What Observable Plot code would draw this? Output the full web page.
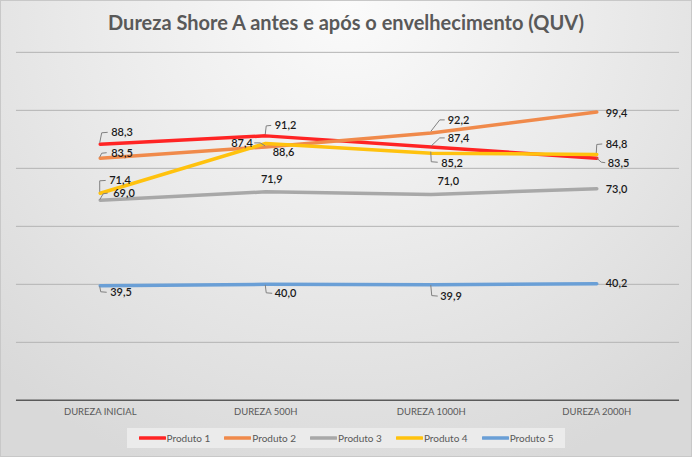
<!DOCTYPE html>
<html>
<head>
<meta charset="utf-8">
<script src="https://cdn.jsdelivr.net/npm/d3@7"></script>
<script src="https://cdn.jsdelivr.net/npm/@observablehq/plot@0.6"></script>
<style>
  html, body { margin: 0; padding: 0; }
  #chart {
    position: relative; width: 690px; height: 455px; overflow: hidden;
    border: 1px solid #c8c8c8;
    background: radial-gradient(ellipse 75% 110% at 50% 0%, #fbfbfb 0%, #ececec 45%, #d9d9d9 100%);
    font-family: Lato, "Open Sans", sans-serif;
  }
  #title {
    position: absolute; top: 9px; left: 0; width: 690px; text-align: center;
    font-size: 20px; font-weight: 700; color: #595959; letter-spacing: 0px;
  }
  #plot { position: absolute; top: 0; left: 0; }
  #legend {
    position: absolute; left: 126px; top: 427px; width: 438px; height: 20px;
    background: rgba(236,236,236,0.9);
    display: flex; align-items: center; justify-content: center; gap: 14px;
    font-size: 10px; color: #595959;
  }
  .item { display: flex; align-items: center; }
  .item svg { margin-right: 1px; }
</style>
</head>
<body>
<div id="chart">
  <div id="plot"></div>
  <div id="title">Dureza Shore A antes e após o envelhecimento (QUV)</div>
  <div id="legend"></div>
</div>
<script>
// ---- data ----
const categories = ["DUREZA INICIAL", "DUREZA 500H", "DUREZA 1000H", "DUREZA 2000H"];
const seriesNames = ["Produto 1", "Produto 2", "Produto 3", "Produto 4", "Produto 5"];
const produto1 = [88.3, 91.2, 87.4, 83.5];
const produto2 = [83.5, 87.4, 92.2, 99.4];
const produto3 = [69.0, 71.9, 71.0, 73.0];
const produto4 = [71.4, 88.6, 85.2, 84.8];
const produto5 = [39.5, 40.0, 39.9, 40.2];
const gridValues = [20, 40, 60, 80, 100, 120];
const colors = ["#ff2424", "#f08a4b", "#a8a8a8", "#ffc20e", "#6a9fd6"];

const seriesValues = [produto1, produto2, produto3, produto4, produto5];

// ---- label layout (pixel offsets from each point: dx, dy, anchor, leader polyline) ----
const labelLayout = [
  [ [11,-11.5,"start",[[0,-1],[2,-11],[8,-11.5]]], [9,-10,"start",[[0,-1],[1,-9.5],[6,-10]]], [16.5,-8.5,"start",[[0,0],[9,-8.5],[14,-8.5]]], [11,5,"start",[[0,0],[5,4.5],[9,5]]] ],
  [ [11,-5,"start",[[0,-0.5],[2,-4.5],[7,-5]]], [-13,-3.5,"end",[[-11,-3.5],[-5,-3.5],[0,-0.5]]], [16.5,-12.6,"start",[[0,-1],[9,-12.6],[14,-12.6]]], [9,1,"start",null] ],
  [ [13,-6.6,"start",[[0,0],[3.5,-6],[8,-6.6]]], [6,-12,"middle",null], [17,-12.5,"middle",null], [9,0.5,"start",null] ],
  [ [9,-12.4,"start",[[0,-1],[0,-12],[6,-12.4]]], [7,9.4,"start",null], [10,10,"start",[[0,-1],[0.5,9],[7,9.5]]], [9,-10,"start",[[0,-1],[0.5,-9.5],[6,-10]]] ],
  [ [10,7,"start",[[0,1],[1,6.5],[7,7]]], [9,9.5,"start",[[0,1],[1,9],[7,9.5]]], [9,12,"start",[[0,1],[1,11.5],[7,12]]], [9,0,"start",null] ]
];

const rows = seriesNames.flatMap((s, i) => categories.map((c, j) => ({serie: s, cat: c, v: seriesValues[i][j], i, j})));
const fmt = v => v.toFixed(1).replace(".", ",");

function leaderMark(index, scales) {
  const g = d3.create("svg:g").attr("fill", "none").attr("stroke", "#7f7f7f").attr("stroke-width", 1);
  for (const r of rows) {
    const L = labelLayout[r.i][r.j][3];
    if (!L) continue;
    const px = scales.x(r.cat), py = scales.y(r.v);
    g.append("path").attr("d", "M" + L.map(([a, b]) => [px + a, py + b].join(",")).join("L"));
  }
  return g.node();
}

const labelMarks = rows.map(r => {
  const [dx, dy, anchor] = labelLayout[r.i][r.j];
  return Plot.text([r], {x: "cat", y: "v", text: d => fmt(d.v), dx, dy, textAnchor: anchor,
    fill: "#1a1a1a", fontSize: 11, fontWeight: 600});
});

const plot = Plot.plot({
  width: 692, height: 420,
  marginTop: 51, marginBottom: 20, marginLeft: 15, marginRight: 12,
  style: {background: "transparent", fontFamily: "Lato, 'Open Sans', sans-serif", overflow: "visible"},
  x: {type: "point", domain: categories, padding: 0.5, label: null},
  y: {domain: [0, 120], axis: null},
  color: {domain: seriesNames, range: colors},
  marks: [
    Plot.ruleY(gridValues, {stroke: "#b4b4b4", strokeWidth: 1}),
    Plot.ruleY([0], {stroke: "#5a5a5a", strokeWidth: 1.5}),
    Plot.axisX({tickSize: 0, tickPadding: 8, fontSize: 9.5, fill: "#595959", label: null}),
    Plot.line(rows, {x: "cat", y: "v", z: "serie", stroke: "serie", strokeWidth: 3.5, strokeLinecap: "round", strokeLinejoin: "round"}),
    leaderMark,
    ...labelMarks
  ]
});
document.getElementById("plot").appendChild(plot);

const legend = document.getElementById("legend");
seriesNames.forEach((s, i) => {
  const item = document.createElement("div");
  item.className = "item";
  item.innerHTML = `<svg width="27" height="6"><line x1="1" y1="3" x2="26" y2="3" stroke="${colors[i]}" stroke-width="3.5" stroke-linecap="round"/></svg><span>${s}</span>`;
  legend.appendChild(item);
});
</script>
</body>
</html>
